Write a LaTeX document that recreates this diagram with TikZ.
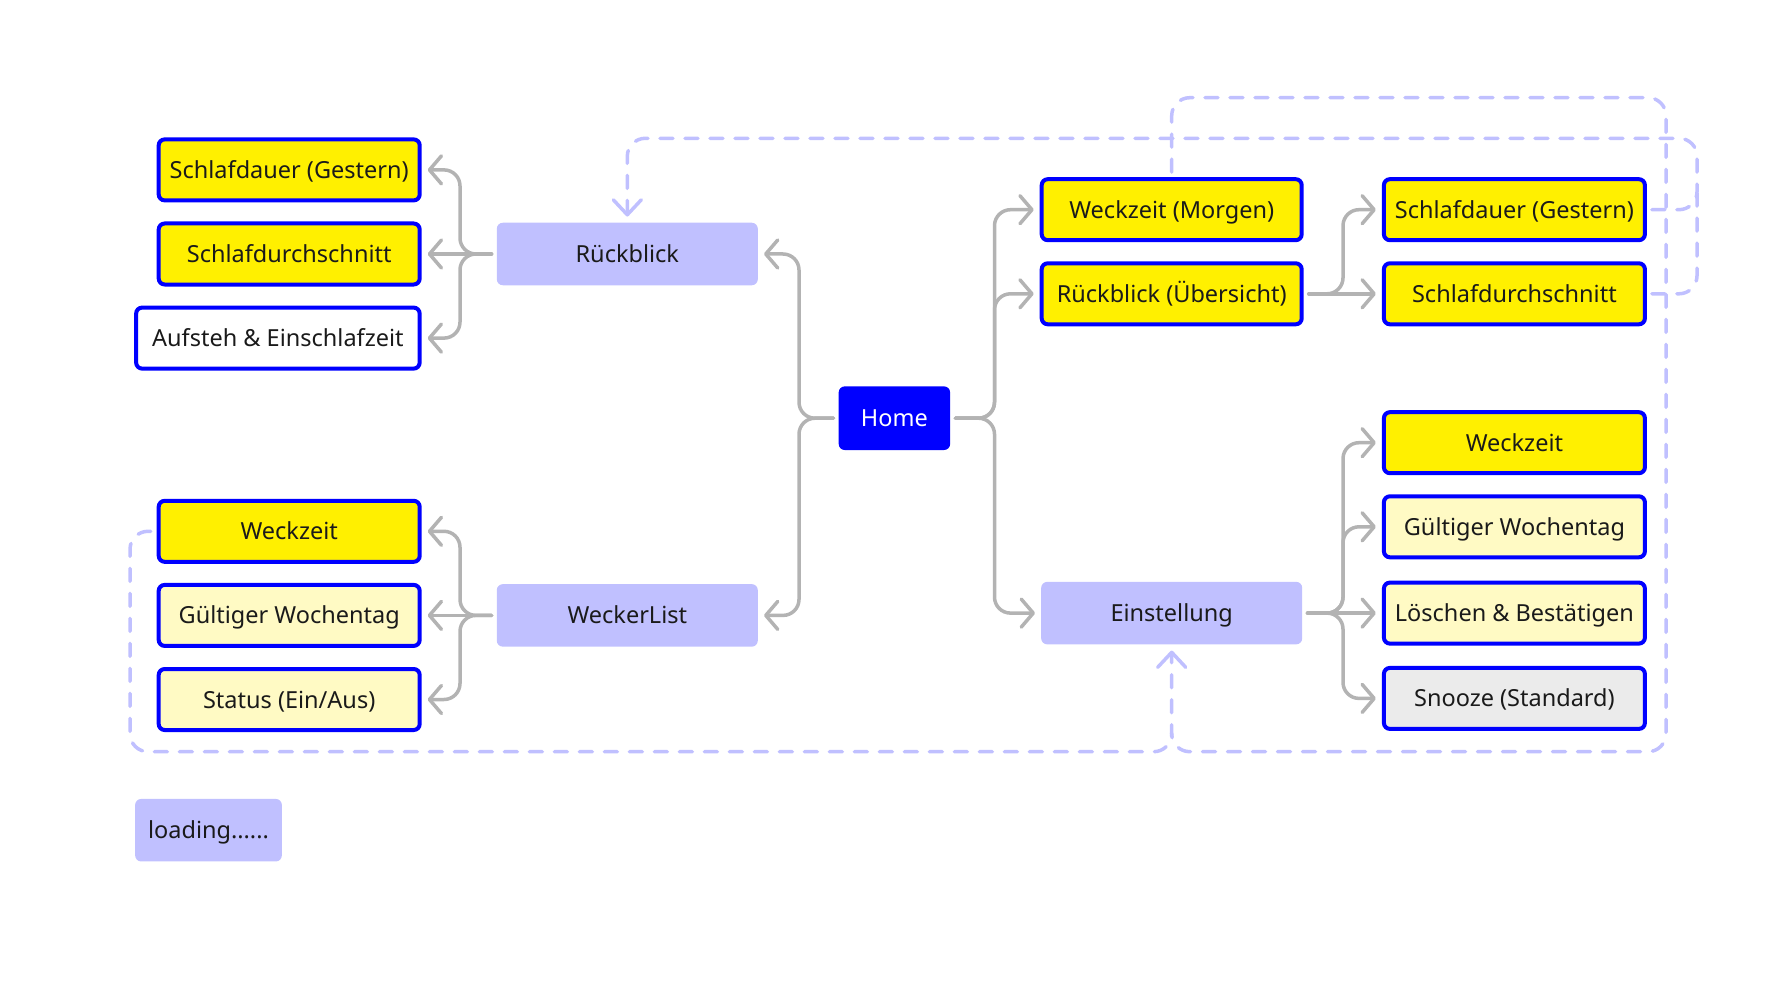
\documentclass[tikz,border=0pt]{standalone}
\usepackage{fontspec}
\setmainfont{Noto Sans}
\usetikzlibrary{arrows.meta}
\definecolor{bluebd}{HTML}{0000FF}
\definecolor{yel}{HTML}{FFF000}
\definecolor{lyel}{HTML}{FFFAC4}
\definecolor{lav}{HTML}{C0C0FF}
\definecolor{lgray}{HTML}{EBEBEB}
\definecolor{conncol}{HTML}{B3B3B3}
\definecolor{txt}{HTML}{1A1A1A}
\begin{document}
\begin{tikzpicture}[x=1pt,y=-1pt,
  every node/.style={font=\fontsize{23.5}{28}\selectfont, text=txt, text height=17pt, text depth=0pt},
  boxb/.style={draw=bluebd, line width=4pt, rounded corners=6pt, minimum width=261pt, minimum height=61pt, inner sep=0pt},
  ybox/.style={boxb, fill=yel},
  lybox/.style={boxb, fill=lyel},
  wbox/.style={boxb, fill=white},
  gbox/.style={boxb, fill=lgray},
  lbox/.style={fill=lav, rounded corners=6pt, minimum width=261pt, minimum height=62.5pt, inner sep=0pt},
  hbox/.style={fill=bluebd, rounded corners=6pt, minimum width=111.4pt, minimum height=63.6pt, inner sep=0pt, text=white},
  conn/.style={draw=conncol, line width=3.5pt, line cap=round, line join=round, rounded corners=16pt, -{Straight Barb[length=12pt,width=28pt,round]}, shorten <=5pt, shorten >=6pt},
  dsh/.style={draw=lav, line width=3.5pt, line cap=round, dash pattern=on 13pt off 12pt, rounded corners=18pt},
  darr/.style={dsh, -{Straight Barb[length=15pt,width=28pt,round]}, shorten <=5pt, shorten >=6pt},
]
\useasboundingbox (0,0) rectangle (1782,1000);

% left column
\node[ybox] (l1) at (289.2,169.9) {Schlafdauer (Gestern)};
\node[ybox] (l2) at (289.2,254) {Schlafdurchschnitt};
\node[wbox, minimum width=283.5pt] (l3) at (277.9,338.1) {Aufsteh \& Einschlafzeit};
\node[lbox] (rb) at (627.3,254) {Rückblick};

\node[ybox] (w1) at (289.2,531.3) {Weckzeit};
\node[lybox] (w2) at (289.2,615.4) {Gültiger Wochentag};
\node[lybox] (w3) at (289.2,699.5) {Status (Ein/Aus)};
\node[lbox] (wl) at (627.3,615.4) {WeckerList};

\node[hbox] (home) at (894.4,418.2) {Home};

% middle / right
\node[ybox, minimum width=260pt] (m1) at (1171.7,209.7) {Weckzeit (Morgen)};
\node[ybox, minimum width=260pt] (m2) at (1171.7,293.8) {Rückblick (Übersicht)};
\node[ybox] (r1) at (1514.4,209.7) {Schlafdauer (Gestern)};
\node[ybox] (r2) at (1514.4,293.8) {Schlafdurchschnitt};

\node[lbox] (e) at (1171.7,613.1) {Einstellung};
\node[ybox] (s1) at (1514.4,442.7) {Weckzeit};
\node[lybox] (s2) at (1514.4,526.8) {Gültiger Wochentag};
\node[lybox] (s3) at (1514.4,613.1) {Löschen \& Bestätigen};
\node[gbox] (s4) at (1514.4,698.4) {Snooze (Standard)};

\node[lbox, minimum width=146.7pt] (ld) at (208.5,830.2) {loading......};

% trunks
\coordinate (t1) at (460,0);
\coordinate (t2) at (799,0);
\coordinate (t3) at (994.5,0);
\coordinate (t4) at (1343,0);

% Rueckblick tree
\draw[conn] (rb.west) -| (t1 |- l1.east) -- (l1.east);
\draw[conn] (rb.west) -- (l2.east);
\draw[conn] (rb.west) -| (t1 |- l3.east) -- (l3.east);
% WeckerList tree
\draw[conn] (wl.west) -| (t1 |- w1.east) -- (w1.east);
\draw[conn] (wl.west) -- (w2.east);
\draw[conn] (wl.west) -| (t1 |- w3.east) -- (w3.east);
% Home
\draw[conn] (home.west) -| (t2 |- rb.east) -- (rb.east);
\draw[conn] (home.west) -| (t2 |- wl.east) -- (wl.east);
\draw[conn] (home.east) -| (t3 |- m1.west) -- (m1.west);
\draw[conn] (home.east) -| (t3 |- m2.west) -- (m2.west);
\draw[conn] (home.east) -| (t3 |- e.west) -- (e.west);
% Rueckblick (Uebersicht)
\draw[conn] (m2.east) -| (t4 |- r1.west) -- (r1.west);
\draw[conn] (m2.east) -- (r2.west);
% Einstellung
\draw[conn] (e.east) -| (t4 |- s1.west) -- (s1.west);
\draw[conn] (e.east) -| (t4 |- s2.west) -- (s2.west);
\draw[conn] (e.east) -- (s3.west);
\draw[conn] (e.east) -| (t4 |- s4.west) -- (s4.west);

% dashed links
\coordinate (d1) at (1697,138.3);
\coordinate (d2) at (1666,97.7);
\coordinate (d3) at (1171.7,751.7);
\coordinate (d4) at (130,751.7);
\draw[darr] (r1.east) -| (d1) -| (rb.north);
\draw[dsh, shorten <=5pt] (r2.east) -| (1697,192);
\draw[darr] (m1.north) |- (d2) |- (d3) -- (e.south);
\draw[dsh, shorten <=6pt] (w1.west) -| (d4) -- (d3) -- (1171.7,733);
\end{tikzpicture}
\end{document}
